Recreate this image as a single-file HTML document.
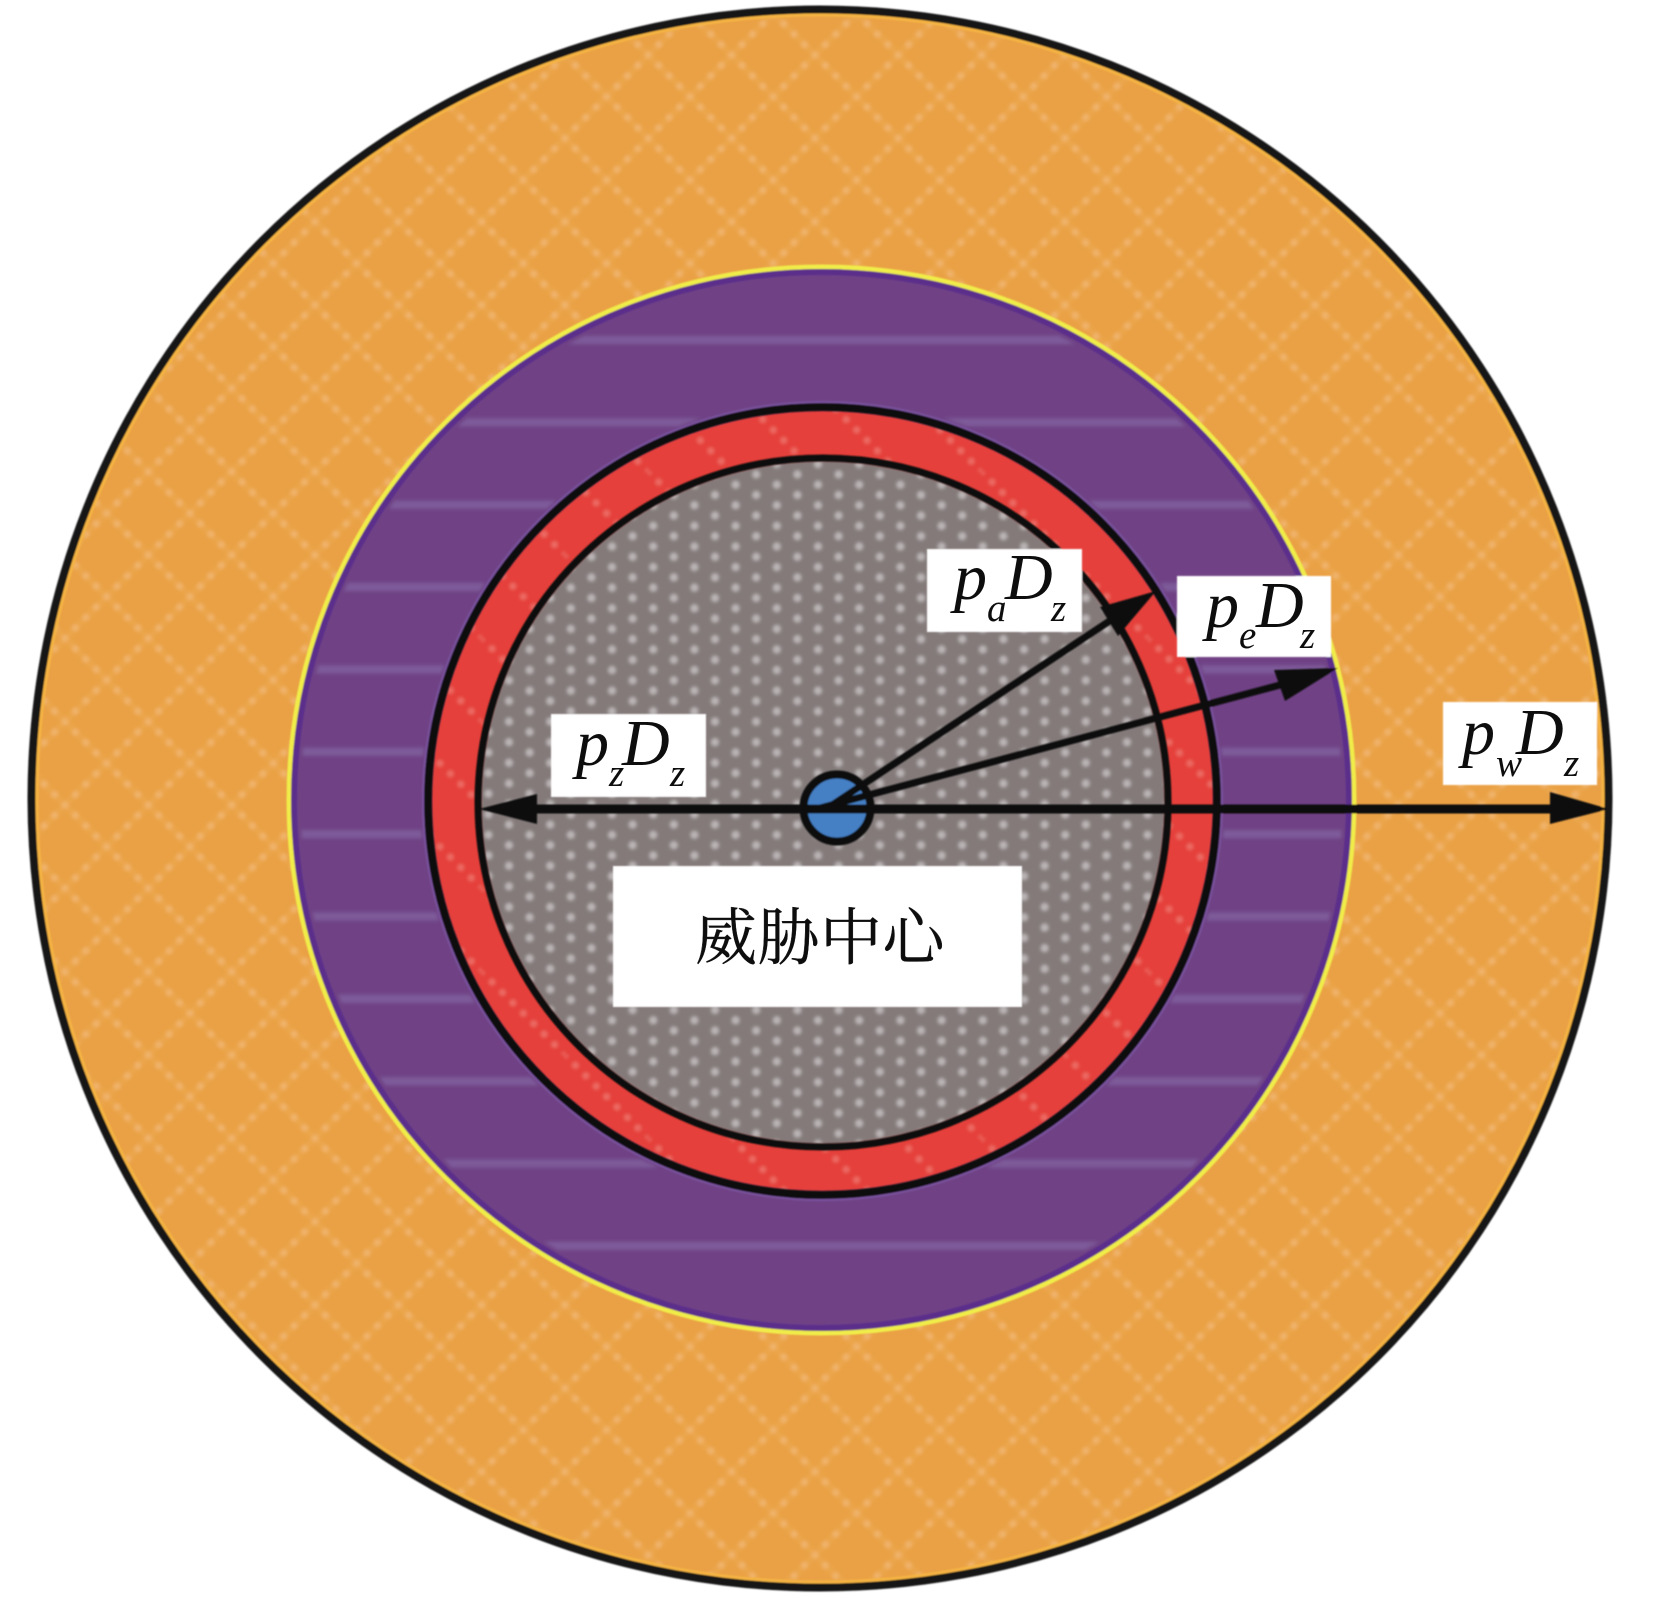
<!DOCTYPE html>
<html>
<head>
<meta charset="utf-8">
<style>
html,body{margin:0;padding:0;background:#fff;width:1654px;height:1621px;overflow:hidden}
svg{display:block}
.m{font-family:"Liberation Serif",serif;font-style:italic;font-size:66px;fill:#111}
.s{font-family:"Liberation Serif",serif;font-style:italic;font-size:39px;fill:#111}
.c{font-family:"Liberation Serif","Noto Serif CJK SC",serif;font-size:62px;fill:#111;letter-spacing:.5px;stroke:#111;stroke-width:.4px}
</style>
</head>
<body>
<svg xmlns="http://www.w3.org/2000/svg" width="1654" height="1621" viewBox="0 0 1654 1621">
<defs>
<filter id="f" filterUnits="userSpaceOnUse" x="0" y="0" width="1654" height="1621"><feGaussianBlur stdDeviation="1.5"/></filter>
<filter id="b" filterUnits="userSpaceOnUse" x="0" y="0" width="1654" height="1621"><feGaussianBlur stdDeviation="0.9"/></filter>
<filter id="t" filterUnits="userSpaceOnUse" x="0" y="0" width="1654" height="1621"><feGaussianBlur stdDeviation="0.35"/></filter>
<pattern id="orange" patternUnits="userSpaceOnUse" x="148.3" y="555" width="83.33" height="83.33">
<rect width="83.33" height="83.33" fill="#eaa145"/>
<path d="M0 0L83.33 83.33M0 83.33L83.33 0" fill="none" stroke="#eba54c" stroke-width="7"/>
<path d="M0 0L83.33 83.33M83.33 83.33L0 0M0 83.33L83.33 0M83.33 0L0 83.33" fill="none" stroke="#f0b36a" stroke-width="7" stroke-linecap="round" stroke-dasharray="0 14.73"/>
</pattern>
<pattern id="red" patternUnits="userSpaceOnUse" x="148.3" y="555" width="83.33" height="83.33">
<rect width="83.33" height="83.33" fill="#e5413b"/>
<path d="M0 0L83.33 83.33M83.33 83.33L0 0" fill="none" stroke="#ec6a63" stroke-width="7" stroke-linecap="round" stroke-dasharray="0 14.73"/>
</pattern>
<pattern id="purple" patternUnits="userSpaceOnUse" x="0" y="336" width="100" height="82.35">
<rect width="100" height="82.35" fill="#6f4285"/>
<rect y="0" width="100" height="8" fill="#7d5a99"/>
</pattern>
<pattern id="grey" patternUnits="userSpaceOnUse" x="704.7" y="489.85" width="41.2" height="20.6">
<rect width="41.2" height="20.6" fill="#847a7a"/>
<circle cx="10.3" cy="5.15" r="4" fill="#bab4b4"/>
<circle cx="30.9" cy="15.45" r="4" fill="#bab4b4"/>
</pattern>
</defs>
<rect width="1654" height="1621" fill="#fff"/>
<g filter="url(#f)">
<ellipse cx="820" cy="798.5" rx="786" ry="786.5" fill="url(#orange)"/>
<ellipse cx="821.5" cy="800" rx="530" ry="530.5" fill="url(#purple)"/>
<ellipse cx="821.5" cy="800" rx="524" ry="524.5" fill="none" stroke="#6f4285" stroke-width="6"/>
<ellipse cx="822.5" cy="801" rx="400" ry="399.5" fill="none" stroke="#6f4285" stroke-width="4"/>
<ellipse cx="822.5" cy="801" rx="392" ry="391.5" fill="url(#red)"/>
<ellipse cx="823" cy="802.5" rx="343" ry="342.5" fill="url(#grey)"/>
</g>
<g filter="url(#b)">
<ellipse cx="820" cy="798.5" rx="788.5" ry="789" fill="none" stroke="#151313" stroke-width="8"/>
<ellipse cx="820" cy="798.5" rx="783" ry="783.5" fill="none" stroke="#f5b442" stroke-width="3"/>
<ellipse cx="821.5" cy="800" rx="532.5" ry="533" fill="none" stroke="#f0ed48" stroke-width="5"/>
<ellipse cx="821.5" cy="800" rx="527.5" ry="528" fill="none" stroke="#5b2d8b" stroke-width="6"/>
<ellipse cx="822.5" cy="801" rx="398.5" ry="398" fill="none" stroke="#7a529f" stroke-width="4"/>
<ellipse cx="822.5" cy="801" rx="394.5" ry="394" fill="none" stroke="#111" stroke-width="8"/>
<ellipse cx="823" cy="802.5" rx="345" ry="344.5" fill="none" stroke="#111" stroke-width="7"/>
<circle cx="837" cy="808" r="33.5" fill="#447fc4" stroke="#111" stroke-width="8"/>
<rect x="927" y="549" width="155" height="83" fill="#fff"/>
<rect x="1177" y="576" width="154" height="81" fill="#fff"/>
<rect x="1443" y="702" width="154" height="83" fill="#fff"/>
<rect x="551" y="714" width="155" height="83" fill="#fff"/>
<rect x="613" y="866" width="409" height="141" fill="#fff"/>
<line x1="530" y1="809" x2="1555" y2="809" stroke="#111" stroke-width="9"/>
<polygon points="479,809 537,794 537,824" fill="#111"/>
<polygon points="1609,809 1550,792 1550,824" fill="#111"/>
<line x1="826" y1="809" x2="1109.5" y2="621" stroke="#111" stroke-width="7"/>
<polygon points="1156,591 1100,607 1118,636" fill="#111"/>
<line x1="820" y1="808" x2="1280" y2="685" stroke="#111" stroke-width="7"/>
<polygon points="1338,668 1274,670 1285,701" fill="#111"/>
</g>
<g filter="url(#t)">
<text class="m" x="954" y="599">p</text><text class="s" x="987" y="621">a</text><text class="m" x="1005" y="599">D</text><text class="s" x="1051" y="621">z</text>
<text class="m" x="1206" y="627">p</text><text class="s" x="1239" y="648">e</text><text class="m" x="1256" y="627">D</text><text class="s" x="1300" y="648">z</text>
<text class="m" x="1462" y="754">p</text><text class="s" x="1496" y="776">w</text><text class="m" x="1516" y="754">D</text><text class="s" x="1564" y="776">z</text>
<text class="m" x="576" y="765">p</text><text class="s" x="609" y="786">z</text><text class="m" x="622" y="765">D</text><text class="s" x="670" y="786">z</text>
<text class="c" x="695" y="959">威胁中心</text>
</g>
</svg>
</body>
</html>
